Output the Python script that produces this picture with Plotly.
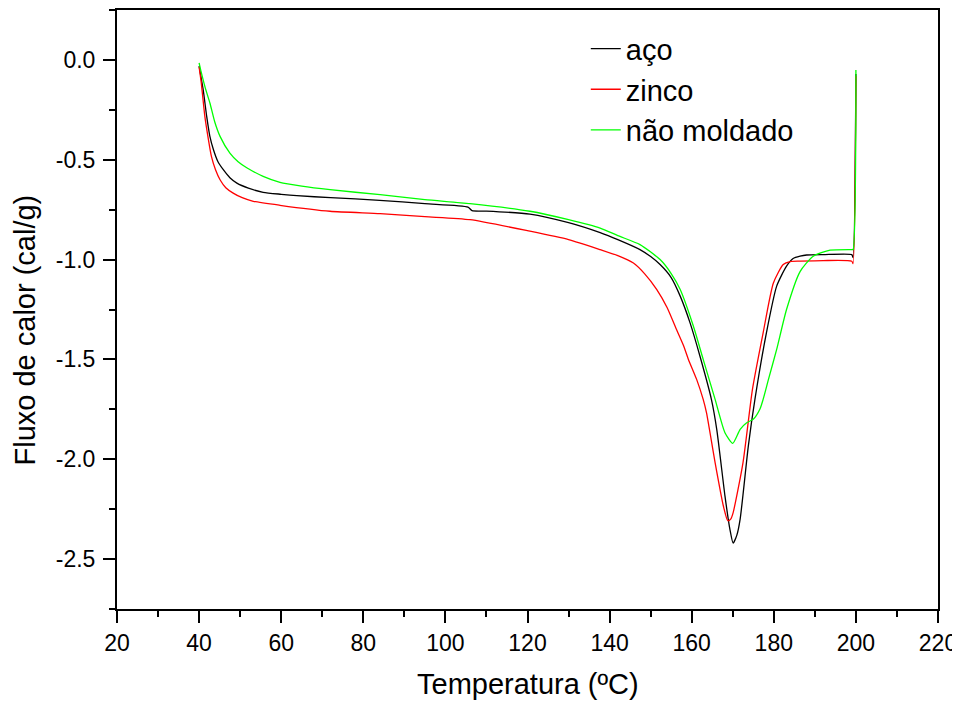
import plotly.graph_objects as go

# ---- data ----
series_names = ["aço", "zinco", "não moldado"]
series_colors = ["#000000", "#FF0000", "#00FF00"]

aco_T = [40, 40.5, 41.0, 41.85, 42.6, 43.5, 44.6, 45.9, 47.5, 49.2, 52, 55.6, 60, 63.8, 72, 84, 95,
         105.5, 106.5, 110, 120.6, 130, 137.7, 142, 147.4, 150, 152.3, 155, 157.2, 159.6, 162.0,
         164.8, 166.1, 168.1, 169.3, 170.1, 171.0, 171.8, 173.8, 175.4, 178.2, 180.7, 183.1, 184.7,
         186.4, 188, 192, 199.0, 199.3, 200.0]
aco_Q = [-0.03, -0.09, -0.15, -0.283, -0.38, -0.45, -0.51, -0.55, -0.59, -0.617, -0.642, -0.663,
         -0.673, -0.68, -0.69, -0.703, -0.72, -0.737, -0.755, -0.757, -0.772, -0.815, -0.865, -0.9,
         -0.95, -0.985, -1.025, -1.09, -1.183, -1.317, -1.483, -1.7, -1.85, -2.183, -2.35, -2.42,
         -2.38, -2.3, -1.933, -1.7, -1.367, -1.133, -1.033, -0.995, -0.983, -0.977, -0.975, -0.975,
         -0.99, -0.07]

zinco_T = [40, 40.5, 41.4, 42.2, 43.0, 44.0, 45.1, 46.5, 48.3, 50.5, 53.2, 59.7, 71.9, 84.1, 95,
           106, 120.6, 130, 137.7, 142, 145.8, 148.5, 151.5, 154, 156.3, 158, 159.2, 161.2, 162.8,
           163.6, 165.7, 167.7, 168.8, 169.5, 170.1, 172.5, 174.8, 177.4, 179.9, 182.3, 184, 186.4,
           192, 199.0, 199.3, 200.0]
zinco_Q = [-0.035, -0.11, -0.283, -0.39, -0.483, -0.55, -0.6, -0.64, -0.667, -0.69, -0.708, -0.728,
           -0.758, -0.77, -0.785, -0.80, -0.858, -0.90, -0.95, -0.98, -1.017, -1.07, -1.15, -1.24,
           -1.35, -1.43, -1.5, -1.6, -1.7, -1.767, -2.017, -2.233, -2.308, -2.3, -2.267, -2.017,
           -1.65, -1.367, -1.117, -1.025, -1.01, -1.008, -1.005, -1.008, -1.02, -0.08]

nm_T = [40, 40.5, 41.5, 42.65, 43.8, 45.1, 47.5, 49.5, 51.6, 55.6, 59.7, 65, 71.9, 84.1, 95, 106,
        120.6, 130, 137.7, 142, 147.4, 152.3, 155, 157.2, 160.4, 162.8, 165.7, 168.1, 170.0, 171.8,
        173.4, 175.0, 176.6, 177.4, 178.7, 180.7, 183.1, 186.4, 189.6, 193.7, 199.0, 199.3, 200.0]
nm_Q = [-0.015, -0.06, -0.14, -0.217, -0.31, -0.383, -0.467, -0.51, -0.54, -0.583, -0.613, -0.632,
        -0.65, -0.675, -0.70, -0.72, -0.758, -0.80, -0.842, -0.88, -0.925, -1.0, -1.07, -1.15,
        -1.333, -1.5, -1.7, -1.867, -1.92, -1.85, -1.817, -1.8, -1.75, -1.7, -1.6, -1.45, -1.25,
        -1.06, -0.983, -0.953, -0.95, -0.95, -0.05]

x_tick_vals = [20, 40, 60, 80, 100, 120, 140, 160, 180, 200, 220]
x_tick_labels = ["20", "40", "60", "80", "100", "120", "140", "160", "180", "200", "220"]
y_tick_vals = [0.0, -0.5, -1.0, -1.5, -2.0, -2.5]
y_tick_labels = ["0.0", "-0.5", "-1.0", "-1.5", "-2.0", "-2.5"]

x_title = "Temperatura (ºC)"
y_title = "Fluxo de calor (cal/g)"

FONT = "Liberation Sans, Arial, sans-serif"

fig = go.Figure()
for name, color, xs, ys in zip(series_names, series_colors,
                               [aco_T, zinco_T, nm_T], [aco_Q, zinco_Q, nm_Q]):
    fig.add_trace(go.Scatter(x=xs, y=ys, mode="lines", name=name,
                             line=dict(color=color, width=1.3, shape="spline", smoothing=0.6)))

axis_common = dict(
    showline=True, linecolor="black", linewidth=2, mirror=True,
    ticks="outside", ticklen=12, tickwidth=2, tickcolor="black",
    showgrid=False, zeroline=False, automargin=False,
    tickfont=dict(family=FONT, size=23, color="black"),
)

fig.update_xaxes(range=[20, 220], tickvals=x_tick_vals, ticktext=x_tick_labels,
                 minor=dict(dtick=10, tick0=20, ticks="outside", ticklen=6, tickwidth=2,
                            tickcolor="black", showgrid=False),
                 **axis_common)
fig.update_yaxes(range=[-2.75, 0.25], tickvals=y_tick_vals, ticktext=y_tick_labels,
                 minor=dict(dtick=0.25, tick0=0, ticks="outside", ticklen=6, tickwidth=2,
                            tickcolor="black", showgrid=False),
                 ticklabelstandoff=3,
                 **axis_common)

fig.add_annotation(text=x_title, xref="paper", yref="paper", x=0.501, y=-0.125,
                   xanchor="center", yanchor="middle", showarrow=False,
                   font=dict(family=FONT, size=29, color="black"))
fig.add_annotation(text=y_title, xref="paper", yref="paper", x=-0.112, y=0.465,
                   xanchor="center", yanchor="middle", textangle=-90, showarrow=False,
                   font=dict(family=FONT, size=29, color="black"))

# page body adds an 8px margin, so the figure is offset by 8px in the window
fig.update_layout(
    width=952, height=694,
    margin=dict(l=109, r=22, t=2, b=93),
    paper_bgcolor="white", plot_bgcolor="white",
    showlegend=True,
    legend=dict(x=0.571, y=0.978, xanchor="left", yanchor="top",
                bgcolor="rgba(0,0,0,0)", borderwidth=0,
                font=dict(family=FONT, size=29, color="black"),
                tracegroupgap=0),
)

fig.write_html("out.html")
